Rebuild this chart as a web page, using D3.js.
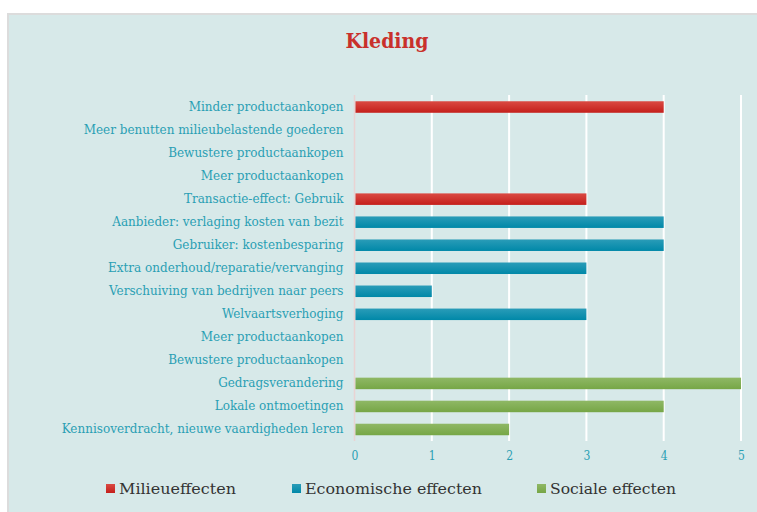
<!DOCTYPE html>
<head>
<meta charset="utf-8">
<style>
body { margin: 0; background: #fff; }
svg { display: block; }
.label text { font: 12px "DejaVu Serif", serif; fill: #2a9fb4; }
.ticks text { font: 12px "DejaVu Serif Condensed", "DejaVu Serif", serif; fill: #2a9fb4; }
.legend text { font: 15.5px "DejaVu Serif", serif; fill: #333; }
.title { font: bold 21px "DejaVu Serif Condensed", "DejaVu Serif", serif; fill: #c9302b; }
</style>
</head>
<body>
<svg width="757" height="512"></svg>
<script src="https://cdn.jsdelivr.net/npm/d3@7"></script>
<script>

var categories = [
  "Minder productaankopen",
  "Meer benutten milieubelastende goederen",
  "Bewustere productaankopen",
  "Meer productaankopen",
  "Transactie-effect: Gebruik",
  "Aanbieder: verlaging kosten van bezit",
  "Gebruiker: kostenbesparing",
  "Extra onderhoud/reparatie/vervanging",
  "Verschuiving van bedrijven naar peers",
  "Welvaartsverhoging",
  "Meer productaankopen",
  "Bewustere productaankopen",
  "Gedragsverandering",
  "Lokale ontmoetingen",
  "Kennisoverdracht, nieuwe vaardigheden leren"
];
var values = [4, 0, 0, 0, 3, 4, 4, 3, 1, 3, 0, 0, 5, 4, 2];
var group  = [0, 0, 0, 0, 0, 1, 1, 1, 1, 1, 2, 2, 2, 2, 2];
var seriesNames = ["Milieueffecten", "Economische effecten", "Sociale effecten"];
var seriesLight = ["#da4a43", "#2a9cb8", "#8fb865"];
var seriesDark  = ["#c41f1b", "#0088a8", "#76a646"];
var xTicks = [0, 1, 2, 3, 4, 5];

var svg = d3.select("svg");

// chart area background
svg.append("rect").attr("x", 8).attr("y", 14).attr("width", 760).attr("height", 510)
    .attr("fill", "#d7e9e9").attr("stroke", "#dcdcdc").attr("stroke-width", 2);

svg.append("text").attr("class", "title").attr("x", 387).attr("y", 48)
    .attr("text-anchor", "middle").text("Kleding");

var x = d3.scaleLinear().domain([0, 5]).range([354.5, 741]);
var y = d3.scaleBand().domain(d3.range(categories.length)).range([95.5, 441]).paddingInner(0.5).paddingOuter(0.25);

var defs = svg.append("defs");
seriesNames.forEach(function(n, i) {
  var gr = defs.append("linearGradient").attr("id", "g" + i).attr("x1", 0).attr("x2", 0).attr("y1", 0).attr("y2", 1);
  gr.append("stop").attr("offset", "0%").attr("stop-color", seriesLight[i]);
  gr.append("stop").attr("offset", "100%").attr("stop-color", seriesDark[i]);
});

// gridlines
svg.append("g").selectAll("line").data(xTicks.slice(1)).enter().append("line")
    .attr("x1", function(d) { return x(d); }).attr("x2", function(d) { return x(d); })
    .attr("y1", 95).attr("y2", 441)
    .attr("stroke", "#fff").attr("stroke-width", 2);

svg.append("line").attr("x1", x(0)).attr("x2", x(0)).attr("y1", 95).attr("y2", 441)
    .attr("stroke", "#e9d3d3").attr("stroke-width", 1.5);

// bars
var bars = svg.append("g");
values.forEach(function(v, i) {
  if (v <= 0) return;
  bars.append("rect")
    .attr("x", x(0) + 1)
    .attr("y", y(i))
    .attr("width", x(v) - x(0) - 1)
    .attr("height", y.bandwidth())
    .attr("fill", "url(#g" + group[i] + ")");
});

// category labels
svg.append("g").attr("class", "label").attr("transform", "translate(" + x(0) + ",0)")
    .call(d3.axisLeft(y).tickSize(0).tickPadding(11).tickFormat(function(i) { return categories[i]; }))
    .call(function(g) { g.select(".domain").remove(); });

// x tick labels
svg.append("g").attr("class", "ticks").attr("transform", "translate(0,441)")
    .call(d3.axisBottom(x).tickValues(xTicks).tickSize(0).tickPadding(10).tickFormat(d3.format("d")))
    .call(function(g) { g.select(".domain").remove(); });

// legend (text squeezed to the narrow serif of the original)
var legendX = [106, 292, 537];
var legendW = [117, 177, 126];
var legend = svg.append("g").attr("class", "legend");
seriesNames.forEach(function(n, i) {
  legend.append("rect").attr("x", legendX[i]).attr("y", 484).attr("width", 9).attr("height", 9)
      .attr("fill", "url(#g" + i + ")");
  legend.append("text").attr("x", legendX[i] + 13).attr("y", 494)
      .attr("textLength", legendW[i]).attr("lengthAdjust", "spacingAndGlyphs").text(n);
});

</script>
</body>
